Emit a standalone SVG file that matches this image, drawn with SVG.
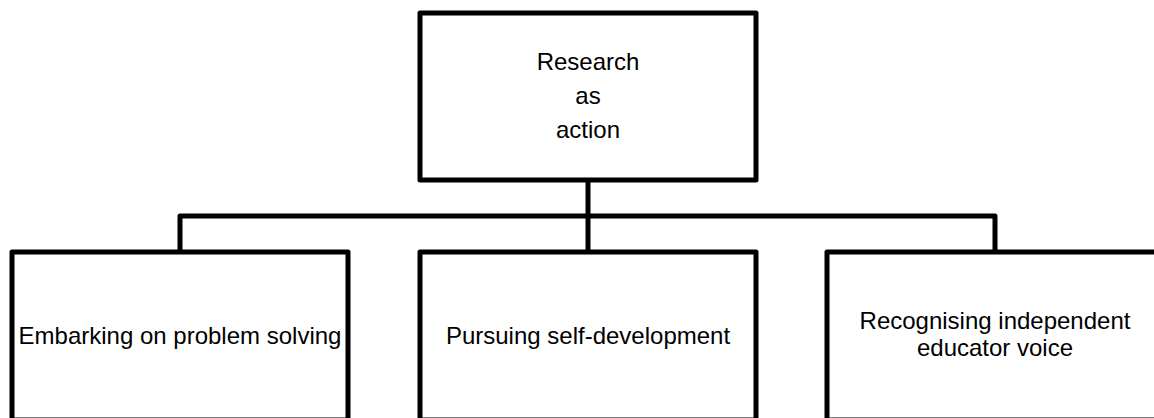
<svg xmlns="http://www.w3.org/2000/svg" width="1154" height="418" viewBox="0 0 1154 418">
  <style>
    .box { fill: #ffffff; stroke: #000000; stroke-width: 5; stroke-linejoin: round; }
    .link { fill: none; stroke: #000000; stroke-width: 5; stroke-linejoin: round; stroke-linecap: butt; }
    .label { font-family: "Liberation Sans", Arial, sans-serif; font-size: 24px; fill: #000000; text-anchor: middle; }
  </style>
  <rect width="1154" height="418" fill="#ffffff"/>

  <!-- tree connectors -->
  <g id="connectors">
    <path class="link" d="M588 180 V252"/>
    <path class="link" d="M180 252 V216 H995 V252"/>
  </g>

  <!-- root -->
  <g id="node-root">
    <rect class="box" x="420" y="13" width="336" height="167"/>
    <text class="label" x="588" y="70">Research</text>
    <text class="label" x="588" y="104">as</text>
    <text class="label" x="588" y="138">action</text>
  </g>

  <!-- children -->
  <g id="node-problem-solving">
    <rect class="box" x="12" y="252" width="336" height="168"/>
    <text class="label" x="180" y="344">Embarking on problem solving</text>
  </g>

  <g id="node-self-development">
    <rect class="box" x="420" y="252" width="336" height="168"/>
    <text class="label" x="588" y="344">Pursuing self-development</text>
  </g>

  <g id="node-educator-voice">
    <rect class="box" x="827" y="252" width="336" height="168"/>
    <text class="label" x="995" y="329">Recognising independent</text>
    <text class="label" x="995" y="356">educator voice</text>
  </g>
</svg>
